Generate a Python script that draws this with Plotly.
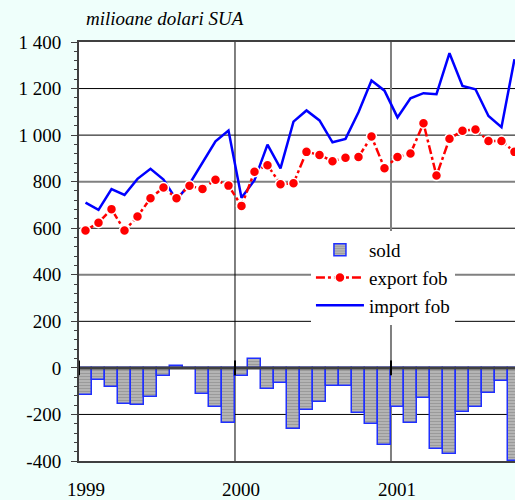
import plotly.graph_objects as go

months = list(range(34))
export_fob = [590, 624, 682, 590, 650, 729, 775, 729, 782, 769, 808, 783,
              696, 843, 871, 789, 793, 928, 915, 888, 903, 906, 994, 858,
              906, 921, 1051, 826, 984, 1019, 1024, 975, 975, 928]
import_fob = [710, 679, 768, 743, 812, 855, 809, 722, 790, 884, 973, 1020,
              731, 806, 959, 857, 1058, 1106, 1063, 969, 984, 1098, 1235, 1191,
              1076, 1158, 1180, 1176, 1352, 1211, 1197, 1082, 1034, 1326]
sold = [-117, -54, -83, -153, -160, -126, -34, 8, -6, -113, -166, -238,
        -34, 37, -89, -66, -263, -179, -147, -79, -79, -195, -241, -332,
        -168, -235, -130, -349, -368, -190, -170, -109, -57, -398]
year_ticks = [0, 12, 24]
year_labels = ["1999", "2000", "2001"]
y_ticks = [-400, -200, 0, 200, 400, 600, 800, 1000, 1200, 1400]
y_labels = ["-400", "-200", "0", "200", "400", "600", "800", "1 000", "1 200", "1 400"]

SERIF = "Liberation Serif"
AX = "#404040"
BG = "#effffb"

fig = go.Figure()
fig.add_trace(go.Bar(
    x=months, y=sold, name="sold", width=1.0,
    marker=dict(color="#a8a8a8",
                line=dict(color="#1f2fff", width=1.5),
                pattern=dict(shape="-", fgcolor="#808080", bgcolor="#b4b4b4",
                             size=3, solidity=0.35)),
    legendrank=1,
))
fig.add_trace(go.Scatter(
    x=months, y=import_fob, name="import fob", mode="lines",
    line=dict(color="#0000ff", width=2.5), legendrank=3,
))
fig.add_trace(go.Scatter(
    x=months, y=export_fob, name="export fob", mode="lines+markers",
    line=dict(color="#ff0000", width=2.5, dash="dashdot"),
    marker=dict(symbol="circle", size=10, color="#ff0000",
                line=dict(color="white", width=1.5)),
    legendrank=2,
))

shapes = []
# horizontal gridlines
for v, col, w in [(-200, "black", 1), (200, "black", 1), (400, "#808080", 2),
                  (600, "black", 1), (800, "#808080", 2), (1000, "black", 1),
                  (1200, "black", 1)]:
    shapes.append(dict(type="line", xref="paper", x0=0, x1=1, yref="y", y0=v, y1=v,
                       line=dict(color=col, width=w), layer="below"))
# vertical gridlines at year boundaries
for xv, col, w in [(11.5, "black", 1), (23.5, "#808080", 2)]:
    shapes.append(dict(type="line", xref="x", x0=xv, x1=xv, yref="paper", y0=0, y1=1,
                       line=dict(color=col, width=w), layer="below"))
# zero line with year tick marks
shapes.append(dict(type="line", xref="paper", x0=0, x1=1, yref="y", y0=0, y1=0,
                   line=dict(color=AX, width=3), layer="above"))
for xv in [-0.5, 11.5, 23.5]:
    shapes.append(dict(type="line", xref="x", x0=xv, x1=xv, yref="y", y0=-32, y1=32,
                       line=dict(color="black", width=2), layer="above"))

annotations = [dict(text="<i>milioane dolari SUA</i>", xref="paper", yref="paper",
                    x=0.011, y=1.057, xanchor="left", yanchor="middle",
                    showarrow=False, font=dict(family=SERIF, size=19))]
for xv, lab in zip(year_ticks, year_labels):
    annotations.append(dict(text=lab, xref="x", yref="paper", x=xv, y=-0.069,
                            xanchor="center", yanchor="middle", showarrow=False,
                            font=dict(family=SERIF, size=19)))

fig.update_layout(
    width=515, height=500,
    margin=dict(l=79, r=0, t=42, b=39, autoexpand=False),
    paper_bgcolor=BG, plot_bgcolor="white",
    font=dict(family=SERIF, size=19, color="black"),
    shapes=shapes,
    annotations=annotations,
    bargap=0,
    showlegend=True,
    legend=dict(x=0.532, y=0.549, xanchor="left", yanchor="top",
                bgcolor="white", borderwidth=0,
                font=dict(family=SERIF, size=19, color="black"),
                tracegroupgap=0, itemwidth=48),
    xaxis=dict(range=[-0.5, 33.04], tickmode="array", tickvals=year_ticks,
               ticktext=year_labels, showticklabels=False, ticks="",
               showgrid=False, zeroline=False,
               showline=True, mirror=True, linecolor=AX, linewidth=2,
               automargin=False),
    yaxis=dict(range=[-400, 1400], tickmode="array", tickvals=y_ticks,
               ticktext=y_labels, ticks="outside", ticklen=6, tickwidth=1,
               tickcolor=AX, showgrid=False, zeroline=False,
               showline=True, linecolor=AX, linewidth=2,
               ticklabelstandoff=6, automargin=False,
               minor=dict(tick0=-400, dtick=40, ticks="outside", ticklen=3,
                          tickcolor=AX, showgrid=False),
               tickfont=dict(family=SERIF, size=19)),
)

fig.write_html(
    "out.html",
    config={"displayModeBar": False},
    post_script="document.body.style.margin='0';document.body.style.overflow='hidden';"
                "document.body.style.background='" + BG + "';",
)
